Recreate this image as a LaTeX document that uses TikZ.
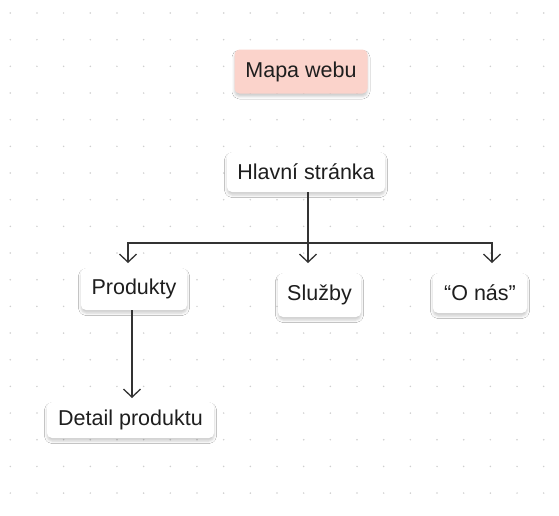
\documentclass[tikz,border=0pt]{standalone}
\usepackage{fontspec}
\setmainfont{Liberation Sans}
\usetikzlibrary{arrows.meta,shadows.blur}
\definecolor{dotc}{HTML}{CFCFCF}
\definecolor{salmon}{HTML}{FBD3CB}
\definecolor{ink}{HTML}{1E1E1E}
\definecolor{linec}{HTML}{333333}
\tikzset{
  card/.style={rectangle, rounded corners=5pt, fill=white, text=ink,
    font=\fontsize{21.5}{25}\selectfont, inner sep=0pt,
    blur shadow={shadow xshift=0pt, shadow yshift=-3pt, shadow blur radius=2.5pt, shadow opacity=20}},
  arr/.style={draw=linec, line width=1.3pt, -{Straight Barb[length=8pt,width=17pt,line width=1.3pt]}}
}
\begin{document}
\begin{tikzpicture}[x=1pt,y=-1pt]
\useasboundingbox (0,0) rectangle (559,515);
\fill[white] (0,0) rectangle (559,515);
\foreach \i in {0,...,20}{
  \foreach \j in {0,...,19}{
    \fill[dotc] ({10.3+26.67*\i},{13+26.67*\j}) circle (0.85pt);
  }
}
\node[card, fill=salmon, minimum width=133pt, minimum height=44pt] (mapa) at (301,71.5) {Mapa webu};
\node[card, minimum width=158pt, minimum height=40pt] (hl) at (306,172) {Hlavní stránka};
\node[card, minimum width=106pt, minimum height=42pt] (pr) at (134,289) {Produkty};
\node[card, minimum width=83pt, minimum height=44pt] (sl) at (319.5,295) {Služby};
\node[card, minimum width=94pt, minimum height=40pt] (on) at (480,293) {“O nás”};
\node[card, minimum width=167pt, minimum height=36pt] (de) at (130.5,420) {Detail produktu};
\coordinate (bus) at (308,243);
\coordinate (tipP) at (128,263);
\coordinate (tipS) at (308,263);
\coordinate (tipO) at (492,263);
\coordinate (tipD) at (132,398);
\draw[arr] (hl.south -| bus) -- (tipS);
\draw[arr] (bus) -| (tipP);
\draw[arr] (bus) -| (tipO);
\draw[arr] (pr.south -| tipD) -- (tipD);
\end{tikzpicture}
\end{document}
